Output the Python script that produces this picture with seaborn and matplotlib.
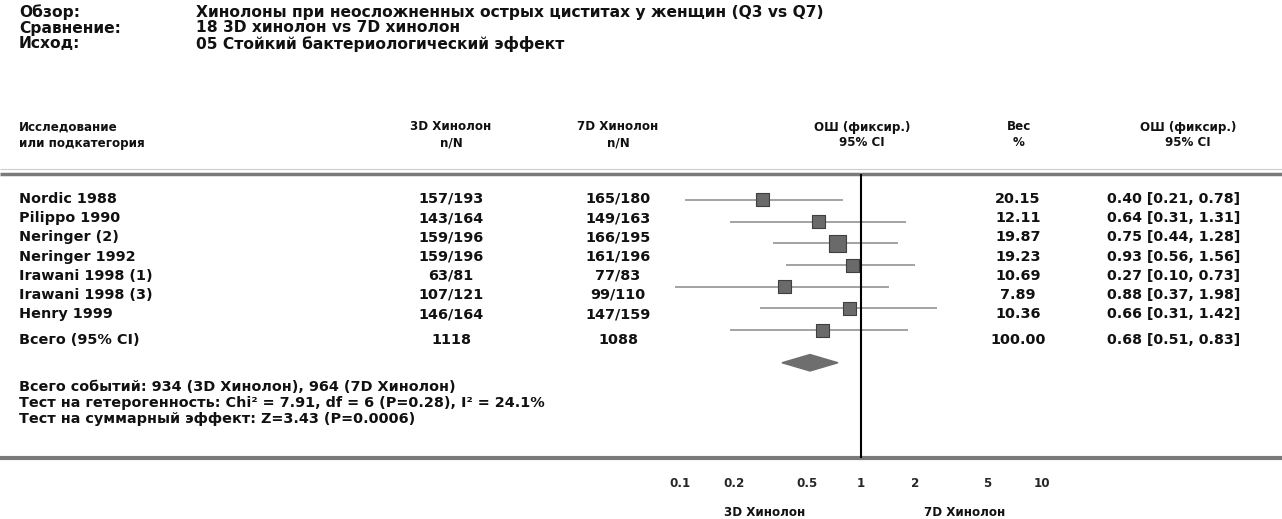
import numpy as np
import pandas as pd
import seaborn as sns
import matplotlib.pyplot as plt
from matplotlib.ticker import NullLocator

sns.set_theme(style='white')
plt.rcParams['font.family'] = ['DejaVu Sans']
plt.rcParams['font.weight'] = 'bold'

# данные таблицы
studies = ['Nordic 1988', 'Pilippo 1990', 'Neringer (2)', 'Neringer 1992',
           'Irawani 1998 (1)', 'Irawani 1998 (3)', 'Henry 1999']
n_3d = ['157/193', '143/164', '159/196', '159/196', '63/81', '107/121', '146/164']
n_7d = ['165/180', '149/163', '166/195', '161/196', '77/83', '99/110', '147/159']
weights = ['20.15', '12.11', '19.87', '19.23', '10.69', '7.89', '10.36']
or_text = ['0.40 [0.21, 0.78]', '0.64 [0.31, 1.31]', '0.75 [0.44, 1.28]',
           '0.93 [0.56, 1.56]', '0.27 [0.10, 0.73]', '0.88 [0.37, 1.98]',
           '0.66 [0.31, 1.42]']
total_3d = '1118'
total_7d = '1088'
total_w = '100.00'
total_or = '0.68 [0.51, 0.83]'

# положения маркеров на графике (лог-шкала)
or_est = [0.287, 0.586, 0.746, 0.892, 0.376, 0.859, 0.609]
or_lo = [0.107, 0.189, 0.327, 0.385, 0.094, 0.277, 0.189]
or_hi = [0.796, 1.77, 1.60, 1.99, 1.43, 2.63, 1.82]
diamond = [0.366, 0.523, 0.746]  # low, est, high

ticks = [0.1, 0.2, 0.5, 1, 2, 5, 10]
tick_labels = ['0.1', '0.2', '0.5', '1', '2', '5', '10']

df = pd.DataFrame({'study': studies, 'est': or_est, 'lo': or_lo, 'hi': or_hi})
df['row'] = np.arange(len(df))

W, H = 1282, 519
fig = plt.figure(figsize=(W / 100, H / 100), dpi=100)

# фон с текстом в пиксельных координатах
bg = fig.add_axes([0, 0, 1, 1])
bg.set_xlim(0, W)
bg.set_ylim(H, 0)
bg.axis('off')

txt = dict(va='center', color='#111111', fontweight='bold')
fs_head = 11.2
fs_col = 8.6
fs_row = 10.4
fs_ci = 10.2
fs_foot = 10.4

# шапка
bg.text(19, 12, 'Обзор:', fontsize=fs_head, **txt)
bg.text(19, 28, 'Сравнение:', fontsize=fs_head, **txt)
bg.text(19, 44, 'Исход:', fontsize=fs_head, **txt)
bg.text(196, 12, 'Хинолоны при неосложненных острых циститах у женщин (Q3 vs Q7)', fontsize=fs_head, **txt)
bg.text(196, 28, '18 3D хинолон vs 7D хинолон', fontsize=fs_head, **txt)
bg.text(196, 44, '05 Стойкий бактериологический эффект', fontsize=fs_head, **txt)

# заголовки колонок
bg.text(19, 127, 'Исследование', fontsize=fs_col, **txt)
bg.text(19, 143, 'или подкатегория', fontsize=fs_col, **txt)
for x, a, b in [(451, '3D Хинолон', 'n/N'), (618, '7D Хинолон', 'n/N'),
                (862, 'ОШ (фиксир.)', '95% CI'), (1019, 'Вес', '%'),
                (1188, 'ОШ (фиксир.)', '95% CI')]:
    bg.text(x, 127, a, fontsize=fs_col, ha='center', **txt)
    bg.text(x, 143, b, fontsize=fs_col, ha='center', **txt)

# строки
row_y = 199 + 19.2 * np.arange(len(studies))
for i, y in enumerate(row_y):
    bg.text(19, y, studies[i], fontsize=fs_row, **txt)
    bg.text(451, y, n_3d[i], fontsize=fs_row, ha='center', **txt)
    bg.text(618, y, n_7d[i], fontsize=fs_row, ha='center', **txt)
    bg.text(1018, y, weights[i], fontsize=fs_row, ha='center', **txt)
    bg.text(1107, y, or_text[i], fontsize=fs_ci, **txt)
bg.text(19, 340, 'Всего (95% CI)', fontsize=fs_row, **txt)
bg.text(451, 340, total_3d, fontsize=fs_row, ha='center', **txt)
bg.text(618, 340, total_7d, fontsize=fs_row, ha='center', **txt)
bg.text(1018, 340, total_w, fontsize=fs_row, ha='center', **txt)
bg.text(1107, 340, total_or, fontsize=fs_ci, **txt)

bg.text(19, 387, 'Всего событий: 934 (3D Хинолон), 964 (7D Хинолон)', fontsize=fs_foot, **txt)
bg.text(19, 403, 'Тест на гетерогенность: Chi² = 7.91, df = 6 (P=0.28), I² = 24.1%', fontsize=fs_foot, **txt)
bg.text(19, 419, 'Тест на суммарный эффект: Z=3.43 (P=0.0006)', fontsize=fs_foot, **txt)

# линии-разделители
bg.hlines(169, 0, W, color='#cccccc', lw=0.8)
bg.hlines(174, 0, W, color='#7a7a7a', lw=2.5)
bg.hlines(458, 0, W, color='#7a7a7a', lw=3)

bg.text(765, 512, '3D Хинолон', fontsize=fs_col, ha='center', **txt)
bg.text(965, 512, '7D Хинолон', fontsize=fs_col, ha='center', **txt)

# forest plot
px_dec = 181.0
x1 = 861
left, right, top, bottom = 640, 1080, 174, 458
ax = fig.add_axes([left / W, (H - bottom) / H, (right - left) / W, (bottom - top) / H])
ax.set_facecolor('none')
ax.set_xscale('log')
ax.set_xlim(10 ** (-(x1 - left) / px_dec), 10 ** ((right - x1) / px_dec))
row0, step = 200, 21.7
ax.set_ylim((bottom - row0) / step, (top - row0) / step)

ax.hlines(df['row'], df['lo'], df['hi'], color='#9c9c9c', lw=1.3, zorder=2)
box_px = [13, 13, 17, 13, 13, 13, 13]
sns.scatterplot(data=df, x='est', y='row', marker='s', s=[(b * 0.72) ** 2 for b in box_px],
                color='#6a6a6a', edgecolor='#3f3f3f', linewidth=0.8, ax=ax, zorder=3, legend=False)

yd = len(studies) + 0.5
ax.fill([diamond[0], diamond[1], diamond[2], diamond[1]],
        [yd, yd - 0.38, yd, yd + 0.38], color='#6e6e6e', zorder=3)

ax.axvline(1, color='black', lw=1.5, zorder=4)

ax.set_xticks(ticks, labels=tick_labels)
ax.xaxis.set_minor_locator(NullLocator())
ax.set_yticks([])
ax.tick_params(axis='x', length=0, pad=14, labelsize=fs_col)
for lab in ax.get_xticklabels():
    lab.set_fontweight('bold')
ax.set_xlabel('')
ax.set_ylabel('')
for s in ax.spines.values():
    s.set_visible(False)

fig.savefig('out.png', dpi=100)
